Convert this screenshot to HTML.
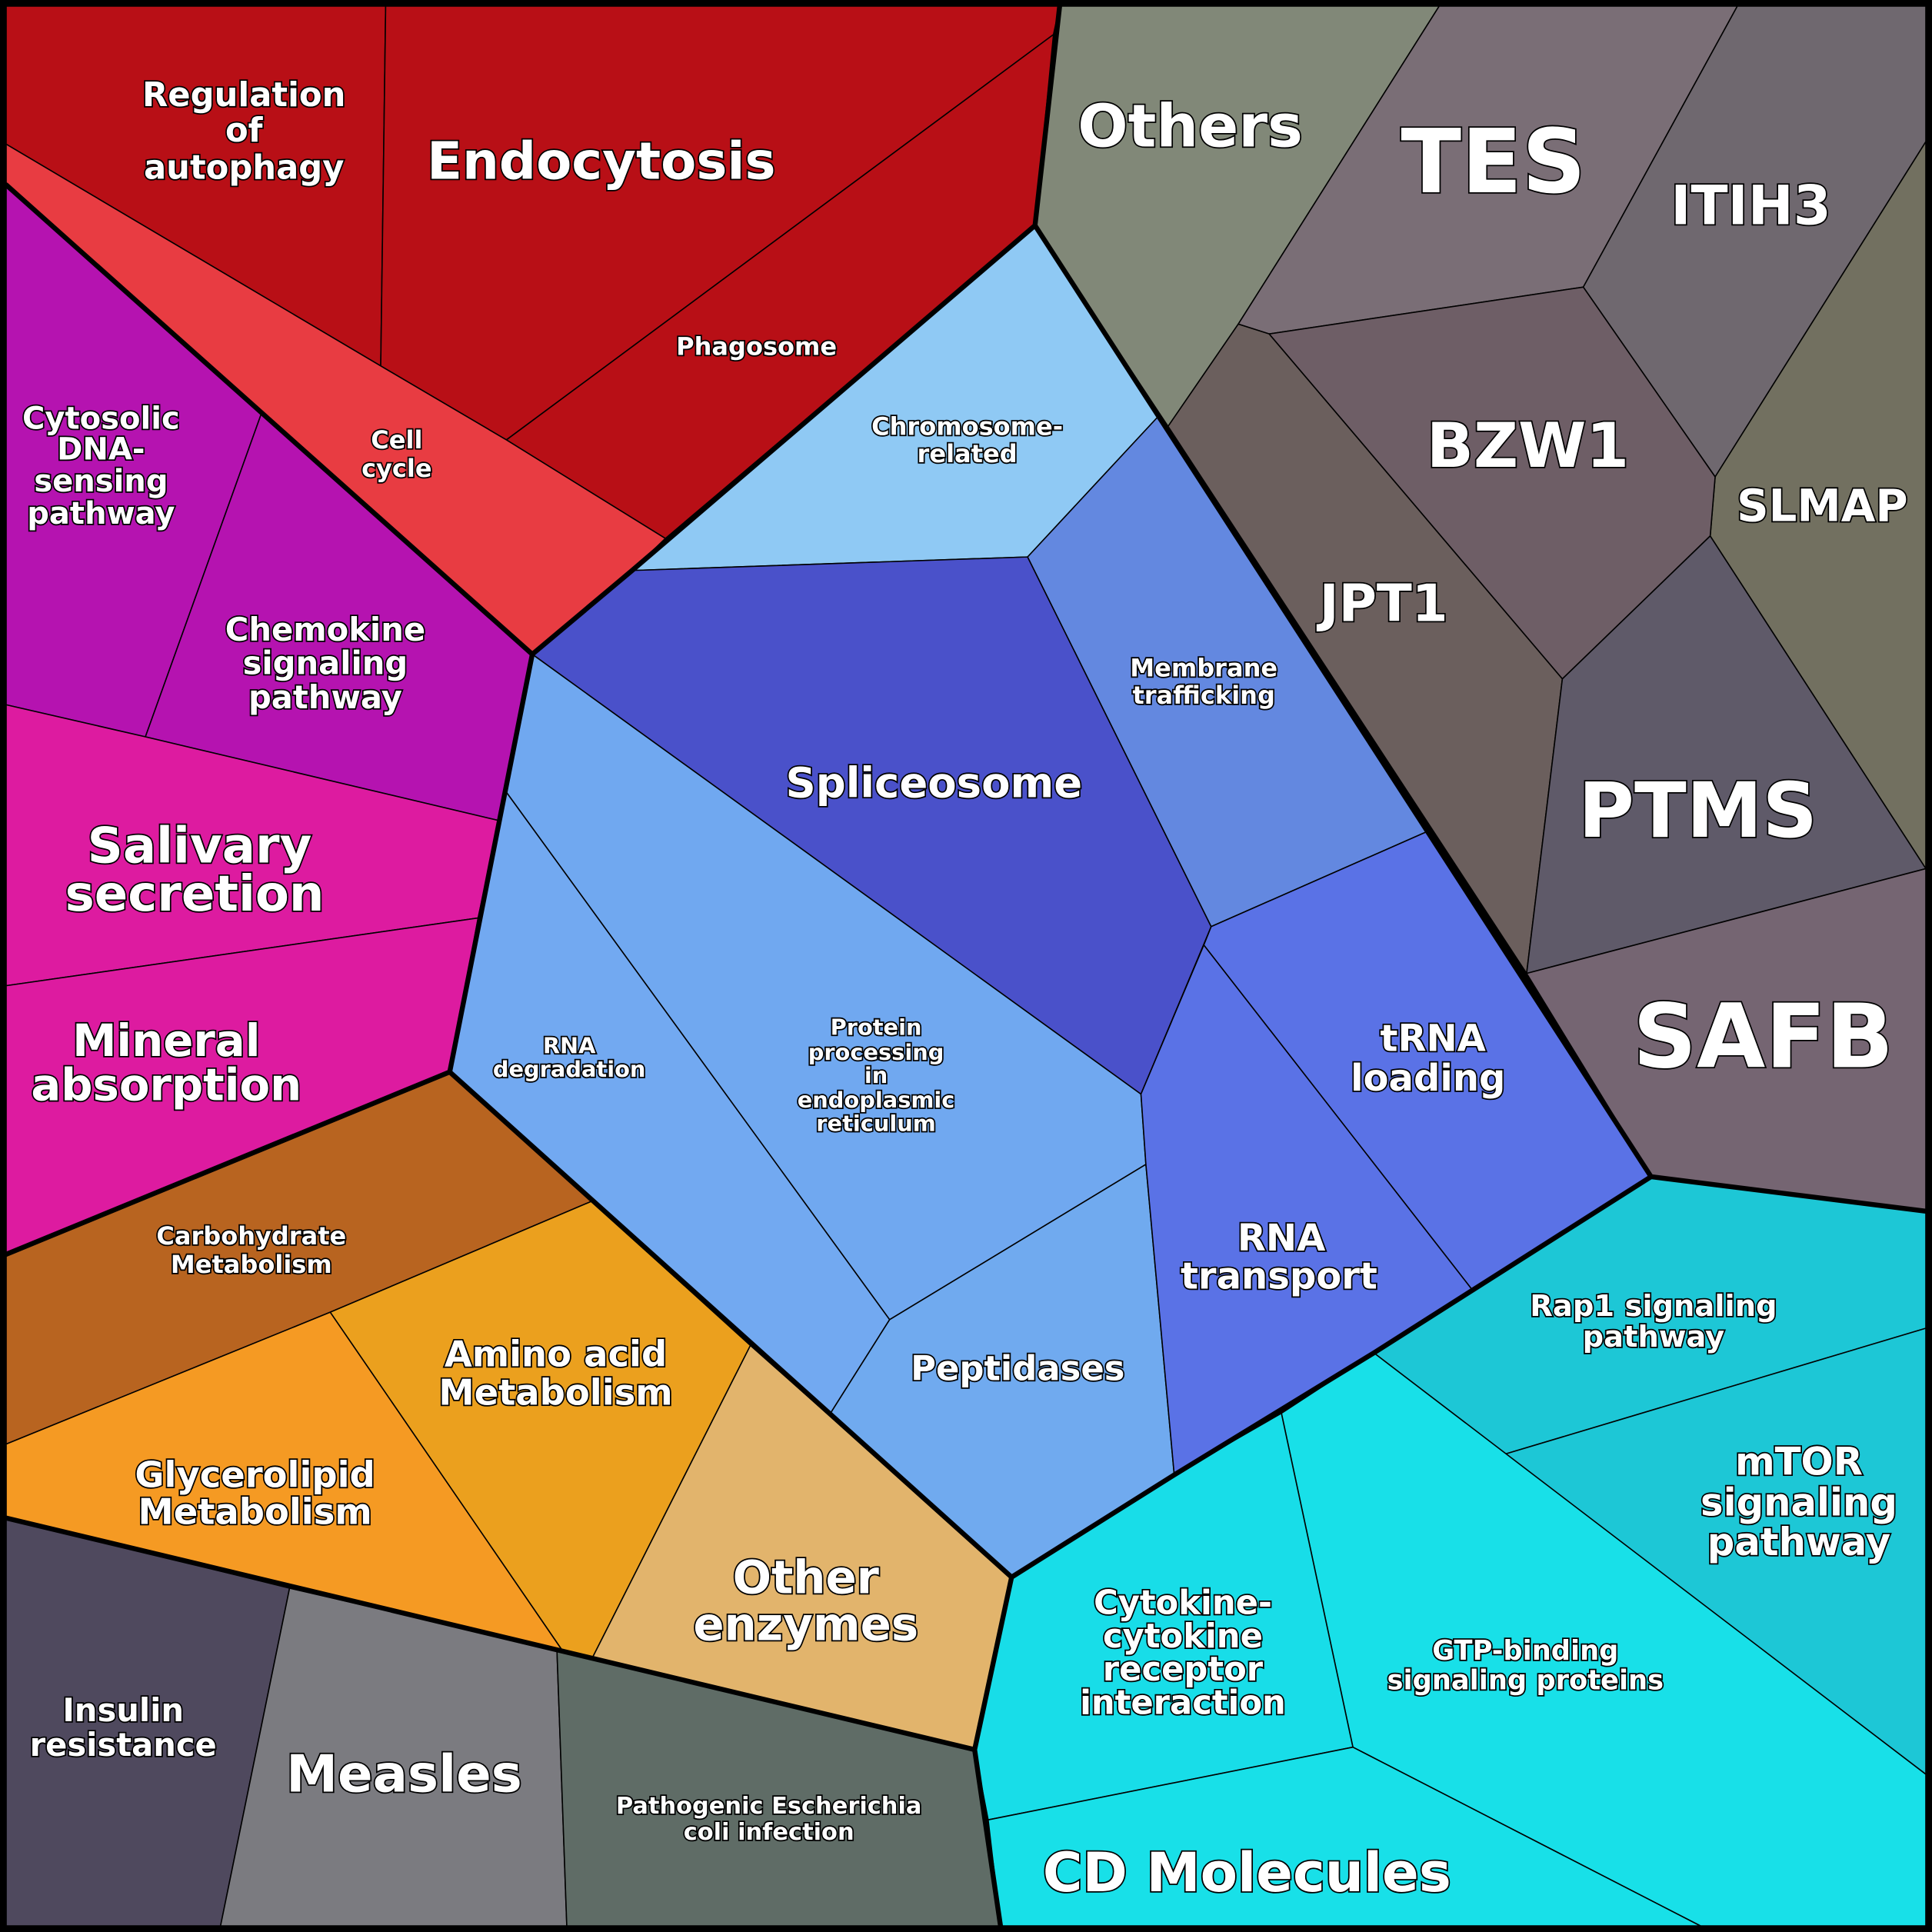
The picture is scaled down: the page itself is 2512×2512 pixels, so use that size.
<!DOCTYPE html>
<html><head><style>
html,body{margin:0;padding:0;background:#000;}
svg{display:block;}
text{font-family:"DejaVu Sans","Liberation Sans",sans-serif;font-weight:bold;fill:#fff;stroke:#000;stroke-width:2.2;paint-order:stroke;text-anchor:middle;}
</style></head><body>
<svg width="2512" height="2512" viewBox="0 0 1568 1568" xmlns="http://www.w3.org/2000/svg">
<rect x="0" y="0" width="1568" height="1568" fill="#000"/>
<g stroke="#000" stroke-width="1" stroke-linejoin="round">
<polygon fill="#B80F16" points="5,5 313,5 309,297 5,117"/>
<polygon fill="#B80F16" points="313,5 860,5 855,28 411,357 309,297"/>
<polygon fill="#B80F16" points="855,28 840,183 540,437 411,357"/>
<polygon fill="#E83C42" points="5,117 309,297 411,357 540,437 513,463 432,531 5,150"/>
<polygon fill="#B513B0" points="5,150 212,336 118,598 5,572"/>
<polygon fill="#B513B0" points="212,336 432,531 405,666 118,598"/>
<polygon fill="#DD1BA0" points="5,572 118,598 405,666 388,745 5,800"/>
<polygon fill="#DD1BA0" points="5,800 388,745 365,870 5,1018"/>
<polygon fill="#B86420" points="5,1018 365,870 480,975 268,1065 5,1172"/>
<polygon fill="#EBA01E" points="268,1065 480,975 609,1092 481,1345 456,1339"/>
<polygon fill="#F59A23" points="5,1172 268,1065 456,1339 5,1232"/>
<polygon fill="#E2B46C" points="481,1345 609,1092 821,1280 791,1420"/>
<polygon fill="#4F495E" points="5,1232 235,1289 179,1563 5,1563"/>
<polygon fill="#7B7B80" points="235,1289 452,1339 460,1563 179,1563"/>
<polygon fill="#5F6C66" points="452,1339 791,1420 812,1563 460,1563"/>
<polygon fill="#8FC9F4" points="513,463 840,183 940,338 834,452"/>
<polygon fill="#4A51CA" points="432,531 513,463 834,452 983,752 926,888"/>
<polygon fill="#6388E0" points="834,452 940,338 1158,675 983,752"/>
<polygon fill="#70A8F0" points="432,531 926,888 930,945 722,1071 411,643"/>
<polygon fill="#72A9F1" points="411,643 722,1071 674,1147 365,870"/>
<polygon fill="#70AAEF" points="722,1071 930,945 953,1197 821,1280 674,1147"/>
<polygon fill="#5A72E6" points="983,752 1158,675 1340,955 1195,1047 977,767"/>
<polygon fill="#5A72E6" points="977,767 1195,1047 1115,1098 953,1197 930,945 926,888"/>
<polygon fill="#1DC7D6" points="1340,955 1563,983 1563,1078 1222,1180 1115,1098"/>
<polygon fill="#1DC7D6" points="1222,1180 1563,1078 1563,1440"/>
<polygon fill="#18E0E8" points="1040,1147 1115,1098 1563,1440 1563,1563 1380,1563 1098,1418"/>
<polygon fill="#18DDE8" points="821,1280 953,1197 1040,1147 1098,1418 802,1477 791,1420"/>
<polygon fill="#18E0E8" points="802,1477 1098,1418 1380,1563 812,1563"/>
<polygon fill="#818878" points="860,5 1168,5 1005,263 948,346 840,183"/>
<polygon fill="#7A6E76" points="1168,5 1410,5 1285,233 1030,271 1005,263"/>
<polygon fill="#6F686F" points="1410,5 1563,5 1563,115 1392,387 1285,233"/>
<polygon fill="#727060" points="1563,115 1563,705 1388,435 1392,387"/>
<polygon fill="#6E5E66" points="1030,271 1285,233 1392,387 1388,435 1268,551"/>
<polygon fill="#6B5F5D" points="1005,263 1030,271 1268,551 1239,790 948,346"/>
<polygon fill="#5F5A69" points="1268,551 1388,435 1563,705 1239,790"/>
<polygon fill="#756572" points="1239,790 1563,705 1563,983 1340,955"/>
</g>
<g stroke="#000" stroke-width="4" fill="none" stroke-linejoin="round" stroke-linecap="round">
<polyline points="5,150 432,531 513,463 840,183 860,5"/>
<polyline points="840,183 1340,955 1563,983"/>
<polyline points="1340,955 1115,1098 953,1197 821,1280 791,1420 812,1563"/>
<polyline points="821,1280 365,870 432,531"/>
<polyline points="365,870 5,1018"/>
<polyline points="5,1232 452,1339 791,1420"/>
<rect x="3" y="3" width="1562" height="1562"/>
</g>
<text font-size="27"><tspan x="198" y="86">Regulation</tspan><tspan x="198" y="115">of</tspan><tspan x="198" y="145">autophagy</tspan></text>
<text font-size="42" x="488" y="145">Endocytosis</text>
<text font-size="20" x="614" y="288">Phagosome</text>
<text font-size="20"><tspan x="322" y="364">Cell</tspan><tspan x="322" y="387">cycle</tspan></text>
<text font-size="25"><tspan x="82" y="348">Cytosolic</tspan><tspan x="82" y="373">DNA-</tspan><tspan x="82" y="399">sensing</tspan><tspan x="82" y="425">pathway</tspan></text>
<text font-size="26"><tspan x="264" y="520">Chemokine</tspan><tspan x="264" y="547">signaling</tspan><tspan x="264" y="575">pathway</tspan></text>
<text font-size="40"><tspan x="162" y="700">Salivary</tspan><tspan x="158" y="739">secretion</tspan></text>
<text font-size="36"><tspan x="135" y="857">Mineral</tspan><tspan x="135" y="893">absorption</tspan></text>
<text font-size="20"><tspan x="204" y="1010">Carbohydrate</tspan><tspan x="204" y="1033">Metabolism</tspan></text>
<text font-size="29"><tspan x="451" y="1109">Amino acid</tspan><tspan x="451" y="1140">Metabolism</tspan></text>
<text font-size="29"><tspan x="207" y="1207">Glycerolipid</tspan><tspan x="207" y="1237">Metabolism</tspan></text>
<text font-size="37"><tspan x="654" y="1293">Other</tspan><tspan x="654" y="1331">enzymes</tspan></text>
<text font-size="26"><tspan x="100" y="1397">Insulin</tspan><tspan x="100" y="1425">resistance</tspan></text>
<text font-size="42" x="328" y="1454">Measles</text>
<text font-size="19"><tspan x="624" y="1472">Pathogenic Escherichia</tspan><tspan x="624" y="1493">coli infection</tspan></text>
<text font-size="20"><tspan x="785" y="353">Chromosome-</tspan><tspan x="785" y="375">related</tspan></text>
<text font-size="34" x="758" y="647">Spliceosome</text>
<text font-size="20"><tspan x="977" y="549">Membrane</tspan><tspan x="977" y="571">trafficking</tspan></text>
<text font-size="18"><tspan x="711" y="840">Protein</tspan><tspan x="711" y="860">processing</tspan><tspan x="711" y="879">in</tspan><tspan x="711" y="899">endoplasmic</tspan><tspan x="711" y="918">reticulum</tspan></text>
<text font-size="18"><tspan x="462" y="855">RNA</tspan><tspan x="462" y="874">degradation</tspan></text>
<text font-size="28" x="826" y="1120">Peptidases</text>
<text font-size="30"><tspan x="1163" y="853">tRNA</tspan><tspan x="1159" y="885">loading</tspan></text>
<text font-size="30"><tspan x="1040" y="1015">RNA</tspan><tspan x="1038" y="1046">transport</tspan></text>
<text font-size="24"><tspan x="1342" y="1068">Rap1 signaling</tspan><tspan x="1342" y="1093">pathway</tspan></text>
<text font-size="31"><tspan x="1460" y="1197">mTOR</tspan><tspan x="1460" y="1230">signaling</tspan><tspan x="1460" y="1262">pathway</tspan></text>
<text font-size="22"><tspan x="1238" y="1347">GTP-binding</tspan><tspan x="1238" y="1371">signaling proteins</tspan></text>
<text font-size="27"><tspan x="960" y="1310">Cytokine-</tspan><tspan x="960" y="1337">cytokine</tspan><tspan x="960" y="1364">receptor</tspan><tspan x="960" y="1391">interaction</tspan></text>
<text font-size="44" x="1012" y="1535">CD Molecules</text>
<text font-size="48" x="966" y="119">Others</text>
<text font-size="72" x="1212" y="156">TES</text>
<text font-size="44" x="1421" y="182">ITIH3</text>
<text font-size="36" x="1479" y="423">SLMAP</text>
<text font-size="50" x="1240" y="379">BZW1</text>
<text font-size="42" x="1123" y="504">JPT1</text>
<text font-size="62" x="1378" y="679">PTMS</text>
<text font-size="72" x="1431" y="866">SAFB</text>
</svg>
</body></html>
